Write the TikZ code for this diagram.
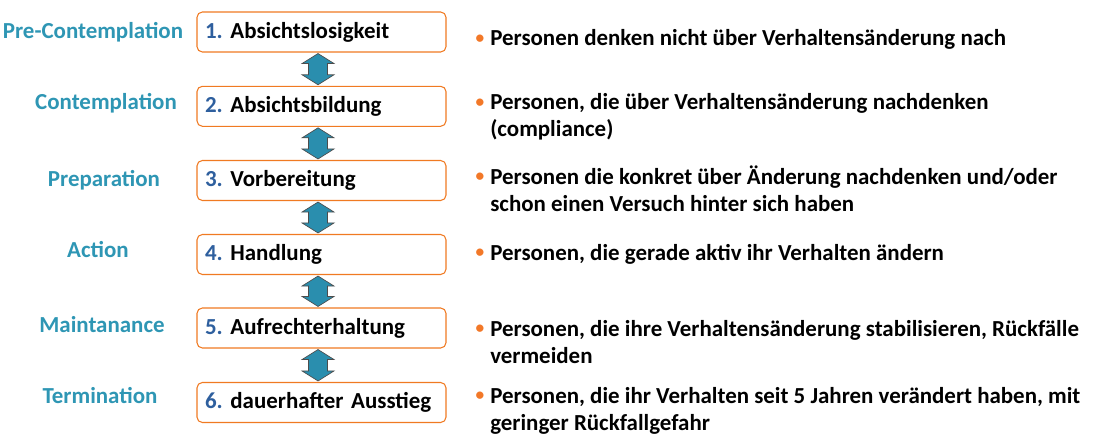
\documentclass[tikz,border=0pt]{standalone}
\usepackage{fontspec}
\setmainfont{Carlito}
\usepackage{tikz}
\usetikzlibrary{calc}
\definecolor{stagecol}{RGB}{46,150,180}
\definecolor{arrowcol}{RGB}{42,142,174}
\definecolor{numcol}{RGB}{46,95,158}
\definecolor{boxcol}{RGB}{240,122,34}
\definecolor{dotcol}{RGB}{242,120,40}
\frenchspacing
\newcommand{\num}[1]{\textcolor{numcol}{#1}}
\newcommand{\bul}{\llap{\raisebox{1.6pt}{\fontsize{13}{13}\selectfont\textcolor{dotcol}{\textbullet}}\hspace{4.6pt}}}
\tikzset{
	stagebox/.style={draw=boxcol, line width=0.8pt, rounded corners=4pt, fill=white, minimum height=30pt, text width=174.75pt, inner xsep=6pt, align=left, font=\fontsize{17.2}{20}\selectfont\bfseries},
	stagename/.style={text=stagecol, inner sep=0pt, font=\fontsize{17.2}{20}\selectfont\bfseries},
	stateitem/.style={anchor=base west, inner sep=0pt, align=left, font=\fontsize{17.2}{20.25}\selectfont\bfseries},
	updown/.style={fill=arrowcol, draw=black!70, line width=0.5pt}
}

\begin{document}
\begin{tikzpicture}[x=0.75pt, y=-0.75pt]
			%%%%% START %%%%%
			\useasboundingbox (0, 0) rectangle (1105, 442);
			
			\node[stagebox] (s1) at (321.5, 32) {\num{1.} Absichtslosigkeit};
			\node[stagebox] (s2) at (321.5, 106.3) {\num{2.} Absichtsbildung};
			\node[stagebox] (s3) at (321.5, 180.5) {\num{3.} Vorbereitung};
			\node[stagebox] (s4) at (321.5, 254.5) {\num{4.} Handlung};
			\node[stagebox] (s5) at (321.5, 328) {\num{5.} Aufrechterhaltung};
			\node[stagebox] (s6) at (321.5, 402.5) {\num{6.} dauerhafter Ausstieg};
			
			\node[stagename] (n1) at (93, 32) {Pre-Contemplation};
			\node[stagename] (n2) at (106, 103) {Contemplation};
			\node[stagename] (n3) at (104, 180) {Preparation};
			\node[stagename] (n4) at (98, 250) {Action};
			\node[stagename] (n5) at (102, 325) {Maintanance};
			\node[stagename] (n6) at (100, 396) {Termination};
			
			% anchor of a two-line item is the baseline of its last line
			\node[stateitem] (i1) at (490, 46) {\bul Personen denken nicht über Verhaltensänderung nach};
			\node[stateitem] (i2) at (490, 137) {\bul Personen, die über Verhaltensänderung nachdenken\\(compliance)};
			\node[stateitem] (i3) at (490, 211) {\bul Personen die konkret über Änderung nachdenken und/oder\\schon einen Versuch hinter sich haben};
			\node[stateitem] (i4) at (490, 260) {\bul Personen, die gerade aktiv ihr Verhalten ändern};
			\node[stateitem] (i5) at (490, 363) {\bul Personen, die ihre Verhaltensänderung stabilisieren, Rückfälle\\vermeiden};
			\node[stateitem] (i6) at (490, 430) {\bul Personen, die ihr Verhalten seit 5 Jahren verändert haben, mit\\geringer Rückfallgefahr};
			
			% double arrows between the stages
			\foreach \a/\b in {s1/s2, s2/s3, s3/s4, s4/s5, s5/s6}
			\draw[updown] let \p1 = ($(\a.south)+(-2.6pt,0)$), \p2 = (\b.north) in
			(\x1, \y1-0.75pt) -- (\x1+12pt, \y1-8.25pt) -- (\x1+7.1pt, \y1-8.25pt) -- (\x1+7.1pt, \y2+8.25pt) -- (\x1+12pt, \y2+8.25pt) -- (\x1, \y2+0.75pt)
			-- (\x1-12pt, \y2+8.25pt) -- (\x1-7.1pt, \y2+8.25pt) -- (\x1-7.1pt, \y1-8.25pt) -- (\x1-12pt, \y1-8.25pt) -- cycle;
			
			%%%%% END %%%%%
\end{tikzpicture}
\end{document}
